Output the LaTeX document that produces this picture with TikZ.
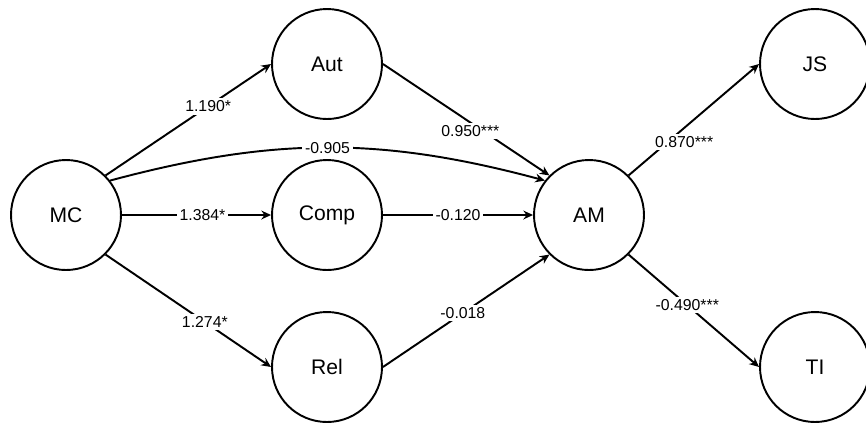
\documentclass[tikz,border=0pt]{standalone}
\usepackage{fontspec}
\setmainfont{Liberation Sans}
\usetikzlibrary{arrows.meta}
\begin{document}
\begin{tikzpicture}[x=0.02cm,y=0.02cm,
        var/.style={circle,draw,line width=1.1pt,minimum size=2.2cm,inner sep=0pt,font=\fontsize{12}{14}\selectfont},
        path/.style={line width=1.1pt,-{Stealth[length=5.5pt,width=5pt]}},
        coef/.style={fill=white,inner sep=1.5pt,font=\fontsize{9}{11}\selectfont}]
        \useasboundingbox (0,0) rectangle (866,-424);
        \node[var] (MC) at (66,-215) {MC};
        \node[var] (Aut) at (327,-64) {Aut};
        \node[var] (Comp) at (327,-215) {Comp};
        \node[var] (Rel) at (327,-367) {Rel};
        \node[var] (AM) at (589,-215) {AM};
        \node[var] (JS) at (815,-64) {JS};
        \node[var] (TI) at (815,-367) {TI};
        \draw[path] (MC.45)--node[coef,pos=0.62]{1.190*}(Aut.west);
        \draw[path] (MC.east)--node[coef,pos=0.54]{1.384*}(Comp.west);
        \draw[path] (MC.-45)--node[coef,pos=0.6]{1.274*}(Rel.west);
        \draw[path] (MC.38) to[out=15,in=165] node[coef,pos=0.5]{-0.905} (AM.142);
        \draw[path] (Aut.east)--node[coef,pos=0.6,xshift=-0.25cm]{0.950***}(AM.135);
        \draw[path] (Comp.east)--node[coef]{-0.120}(AM.west);
        \draw[path] (Rel.east)--node[coef,pos=0.48]{-0.018}(AM.-135);
        \draw[path] (AM.45)--node[coef,pos=0.3,xshift=0.33cm]{0.870***}(JS.west);
        \draw[path] (AM.-45)--node[coef,pos=0.45]{-0.490***}(TI.west);
    \end{tikzpicture}
\end{document}
